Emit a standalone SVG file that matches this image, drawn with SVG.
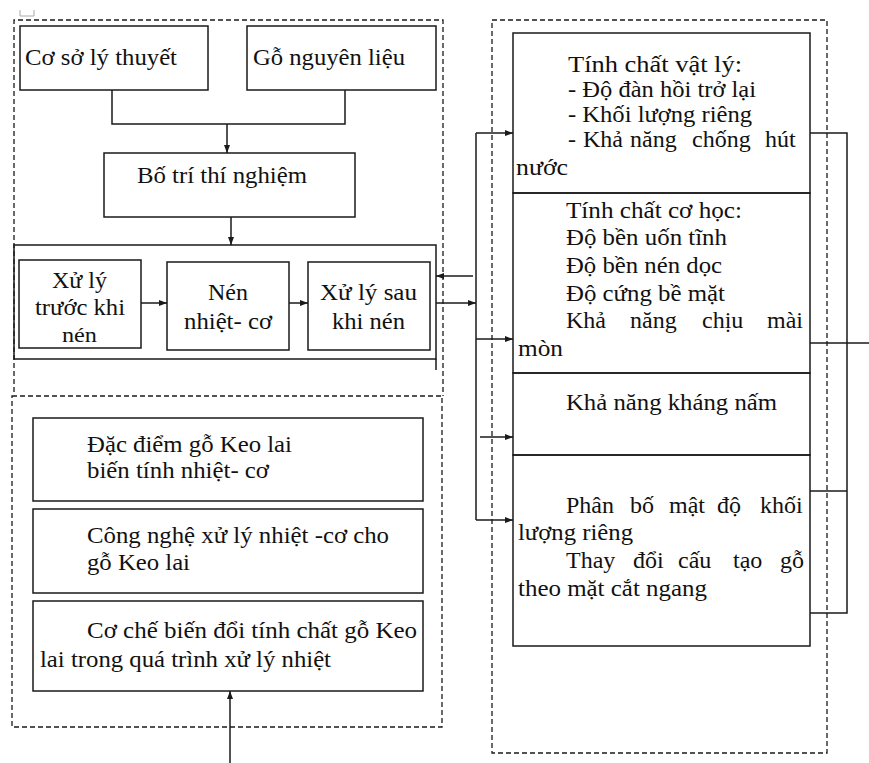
<svg xmlns="http://www.w3.org/2000/svg" width="869" height="763" viewBox="0 0 869 763">
<defs>
<style>
.box{fill:#fff;stroke:#1a1a1a;stroke-width:1.5}
.sec{fill:none;stroke:#1a1a1a;stroke-width:1.5}
.dash{fill:none;stroke:#1a1a1a;stroke-width:1.3;stroke-dasharray:5 3}
.ln{fill:none;stroke:#1a1a1a;stroke-width:1.5}
.arr{fill:none;stroke:#1a1a1a;stroke-width:1.5;marker-end:url(#ah)}
.t text{font-size:24px;fill:#111}
</style>
<marker id="ah" markerUnits="userSpaceOnUse" markerWidth="9" markerHeight="7" refX="8" refY="3" orient="auto">
<path d="M0,0 L8,3 L0,6 z" fill="#1a1a1a"/>
</marker>
</defs>
<rect width="869" height="763" fill="#fff"/>
<path d="M20,10 V16 H34 V10" fill="none" stroke="#aaa" stroke-width="1"/>

<g id="containers">
<path class="dash" d="M14,392 V20 H443 V396"/>
<rect class="dash" x="12" y="396" width="430" height="331"/>
<rect class="dash" x="492" y="20" width="335" height="733"/>
</g>

<g class="t" font-family="'Liberation Serif', 'Times New Roman', serif">
<g id="n-coso">
<rect class="box" x="20" y="26" width="188" height="64"/>
<text x="25" y="65" textLength="152" lengthAdjust="spacingAndGlyphs">Cơ sở lý thuyết</text>
</g>
<g id="n-go">
<rect class="box" x="247" y="26" width="189" height="64"/>
<text x="253" y="65" textLength="152" lengthAdjust="spacingAndGlyphs">Gỗ nguyên liệu</text>
</g>
<g id="n-botri">
<rect class="box" x="104" y="153" width="251" height="64"/>
<text x="137" y="183" textLength="170" lengthAdjust="spacingAndGlyphs">Bố trí thí nghiệm</text>
</g>
<g id="n-quytrinh">
<rect class="sec" x="14" y="245" width="422" height="114"/>
<path class="ln" d="M436,359 V370"/>
</g>
<g id="n-truoc">
<rect class="box" x="19" y="260" width="122" height="88"/>
<text x="52" y="288" textLength="55" lengthAdjust="spacingAndGlyphs">Xử lý</text>
<text x="35" y="315" textLength="90" lengthAdjust="spacingAndGlyphs">trước khi</text>
<text x="62" y="342" textLength="35" lengthAdjust="spacingAndGlyphs" style="font-size:20px">nén</text>
</g>
<g id="n-nen">
<rect class="box" x="167" y="262" width="122" height="88"/>
<text x="208" y="300" textLength="40" lengthAdjust="spacingAndGlyphs">Nén</text>
<text x="184" y="329" textLength="88" lengthAdjust="spacingAndGlyphs">nhiệt- cơ</text>
</g>
<g id="n-sau">
<rect class="box" x="308" y="262" width="122" height="88"/>
<text x="320" y="300" textLength="97" lengthAdjust="spacingAndGlyphs">Xử lý sau</text>
<text x="332" y="329" textLength="73" lengthAdjust="spacingAndGlyphs">khi nén</text>
</g>

<g id="n-dacdiem">
<rect class="box" x="33" y="418" width="390" height="83"/>
<text x="87" y="452" textLength="205" lengthAdjust="spacingAndGlyphs">Đặc điểm gỗ Keo lai</text>
<text x="87" y="478" textLength="182" lengthAdjust="spacingAndGlyphs">biến tính nhiệt- cơ</text>
</g>
<g id="n-congnghe">
<rect class="box" x="33" y="509" width="390" height="84"/>
<text x="87" y="543" textLength="302" lengthAdjust="spacingAndGlyphs">Công nghệ xử lý nhiệt -cơ cho</text>
<text x="87" y="570" textLength="103" lengthAdjust="spacingAndGlyphs">gỗ Keo lai</text>
</g>
<g id="n-coche">
<rect class="box" x="33" y="601" width="390" height="90"/>
<text x="87" y="638" textLength="330" lengthAdjust="spacingAndGlyphs">Cơ chế biến đổi tính chất gỗ Keo</text>
<text x="40" y="667" textLength="291" lengthAdjust="spacingAndGlyphs">lai trong quá trình xử lý nhiệt</text>
</g>

<g id="n-vatly">
<rect class="sec" x="513" y="33" width="297" height="160"/>
<text x="568" y="72" textLength="174" lengthAdjust="spacingAndGlyphs">Tính chất vật lý:</text>
<text x="568" y="97" textLength="188" lengthAdjust="spacingAndGlyphs">- Độ đàn hồi trở lại</text>
<text x="568" y="122" textLength="184" lengthAdjust="spacingAndGlyphs">- Khối lượng riêng</text>
<text y="147"><tspan x="568">-</tspan><tspan x="583">Khả</tspan><tspan x="630">năng</tspan><tspan x="692">chống</tspan><tspan x="765">hút</tspan></text>
<text x="516" y="175" textLength="52" lengthAdjust="spacingAndGlyphs">nước</text>
</g>
<g id="n-cohoc">
<rect class="sec" x="513" y="193" width="297" height="180"/>
<text x="566" y="218" textLength="176" lengthAdjust="spacingAndGlyphs">Tính chất cơ học:</text>
<text x="566" y="245" textLength="161" lengthAdjust="spacingAndGlyphs">Độ bền uốn tĩnh</text>
<text x="566" y="273" textLength="156" lengthAdjust="spacingAndGlyphs">Độ bền nén dọc</text>
<text x="566" y="301" textLength="159" lengthAdjust="spacingAndGlyphs">Độ cứng bề mặt</text>
<text y="328"><tspan x="566">Khả</tspan><tspan x="630">năng</tspan><tspan x="702">chịu</tspan><tspan x="767">mài</tspan></text>
<text x="518" y="356" textLength="45" lengthAdjust="spacingAndGlyphs">mòn</text>
</g>
<g id="n-khangnam">
<rect class="sec" x="513" y="373" width="297" height="82"/>
<text x="566" y="410" textLength="211" lengthAdjust="spacingAndGlyphs">Khả năng kháng nấm</text>
</g>
<g id="n-phanbo">
<rect class="sec" x="513" y="455" width="297" height="191"/>
<text y="513"><tspan x="566">Phân</tspan><tspan x="630">bố</tspan><tspan x="669">mật</tspan><tspan x="717">độ</tspan><tspan x="760">khối</tspan></text>
<text x="518" y="540" textLength="115" lengthAdjust="spacingAndGlyphs">lượng riêng</text>
<text y="568"><tspan x="566">Thay</tspan><tspan x="633">đổi</tspan><tspan x="678">cấu</tspan><tspan x="733">tạo</tspan><tspan x="780">gỗ</tspan></text>
<text x="518" y="596" textLength="189" lengthAdjust="spacingAndGlyphs">theo mặt cắt ngang</text>
</g>
</g>

<g id="connectors">
<path class="ln" d="M112,90 V124 H345 V90"/>
<path class="arr" d="M227,124 V153"/>
<path class="arr" d="M231,217 V245"/>
<path class="arr" d="M141,303 H167"/>
<path class="arr" d="M289,303 H308"/>
<path class="arr" d="M473,276 H436"/>
<path class="arr" d="M436,303 H476"/>
<path class="ln" d="M476,133 V520"/>
<path class="arr" d="M476,133 H513"/>
<path class="arr" d="M476,339 H513"/>
<path class="arr" d="M480,437 H513"/>
<path class="arr" d="M476,520 H513"/>
<path class="ln" d="M810,133 H847 V613 H810"/>
<path class="ln" d="M810,491 H847"/>
<path class="ln" d="M810,343 H869"/>
<path class="arr" d="M230,763 V691"/>
</g>
</svg>
